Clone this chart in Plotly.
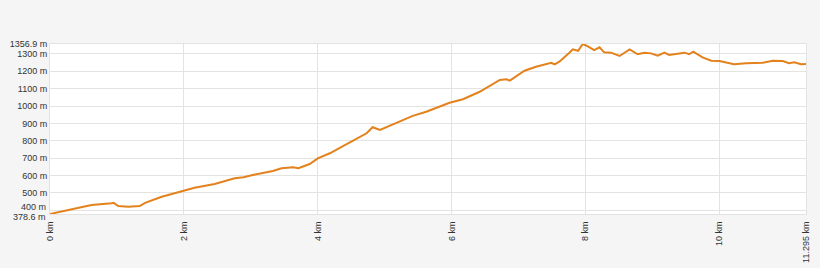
import plotly.graph_objects as go

# distance (km) and elevation (m)
dist_km = [0.0, 0.27, 0.62, 0.92, 0.95, 1.02, 1.17, 1.34, 1.42, 1.67, 2.01, 2.16, 2.46, 2.76, 2.89,
           3.03, 3.33, 3.46, 3.63, 3.71, 3.88, 4.0, 4.18, 4.33, 4.48, 4.73, 4.82, 4.93, 5.03, 5.17,
           5.42, 5.62, 5.81, 5.97, 6.17, 6.42, 6.72, 6.82, 6.87, 7.09, 7.26, 7.44, 7.49, 7.54, 7.61,
           7.76, 7.81, 7.89, 7.96, 8.03, 8.13, 8.21, 8.28, 8.38, 8.48, 8.51, 8.66, 8.78, 8.88, 8.98,
           9.08, 9.18, 9.25, 9.48, 9.55, 9.61, 9.75, 9.88, 10.0, 10.1, 10.22, 10.4, 10.65, 10.8,
           10.95, 11.04, 11.12, 11.22, 11.295]
elev_m = [378.6, 401, 430, 440, 443, 424, 420, 424, 443, 478, 517, 530, 551, 584, 590,
          603, 626, 642, 647, 642, 666, 699, 728, 762, 791, 843, 878, 862, 878, 904,
          943, 967, 995, 1019, 1039, 1082, 1150, 1154, 1146, 1203, 1226, 1242, 1249, 1240, 1255,
          1307, 1326, 1318, 1356.9, 1345, 1322, 1338, 1309, 1307, 1290, 1288, 1326, 1298, 1307, 1303,
          1290, 1307, 1294, 1307, 1298, 1313, 1280, 1261, 1259, 1249, 1240, 1246, 1249, 1261,
          1259, 1246, 1252, 1240, 1242]

y_ticks = [378.6, 400, 500, 600, 700, 800, 900, 1000, 1100, 1200, 1300, 1356.9]
y_labels = ["378.6 m", "400 m", "500 m", "600 m", "700 m", "800 m", "900 m", "1000 m",
            "1100 m", "1200 m", "1300 m", "1356.9 m"]
x_ticks = [0, 2, 4, 6, 8, 10, 11.295]
x_labels = ["0 km", "2 km", "4 km", "6 km", "8 km", "10 km", "11.295 km"]

# labels near the crowded bottom drawn as shifted annotations
crowded = {378.6: -3, 400: 3}
axis_text = [("" if v in crowded else t) for v, t in zip(y_ticks, y_labels)]

fig = go.Figure()
fig.add_trace(go.Scatter(x=dist_km, y=elev_m, mode="lines",
                         line=dict(color="#e3821c", width=2), hoverinfo="skip"))

for v, t in zip(y_ticks, y_labels):
    if v in crowded:
        fig.add_annotation(x=0, xref="paper", y=v, yref="y", text=t, showarrow=False,
                           xanchor="right", yanchor="middle", xshift=-2, yshift=crowded[v],
                           font=dict(family="Liberation Sans, Arial, sans-serif", size=9,
                                     color="#333333"))

fig.update_layout(
    width=820, height=268,
    margin=dict(l=50, r=14, t=44, b=54),
    paper_bgcolor="#f5f5f5", plot_bgcolor="#ffffff",
    showlegend=False,
    font=dict(family="Liberation Sans, Arial, sans-serif", size=9, color="#333333"),
)
fig.update_xaxes(range=[0, 11.295], tickvals=x_ticks, ticktext=x_labels, tickangle=-90,
                 showgrid=True, gridcolor="#e3e3e3", gridwidth=1, zeroline=False,
                 showline=True, linecolor="#e3e3e3", mirror=True, ticks="", ticklen=0,
                 automargin=False, ticklabelstandoff=3)
fig.update_yaxes(range=[378.6, 1356.9], tickvals=y_ticks, ticktext=axis_text,
                 showgrid=True, gridcolor="#e3e3e3", gridwidth=1, zeroline=False,
                 showline=True, linecolor="#e3e3e3", mirror=True, ticks="", ticklen=0,
                 automargin=False)

fig.write_html("out.html")
